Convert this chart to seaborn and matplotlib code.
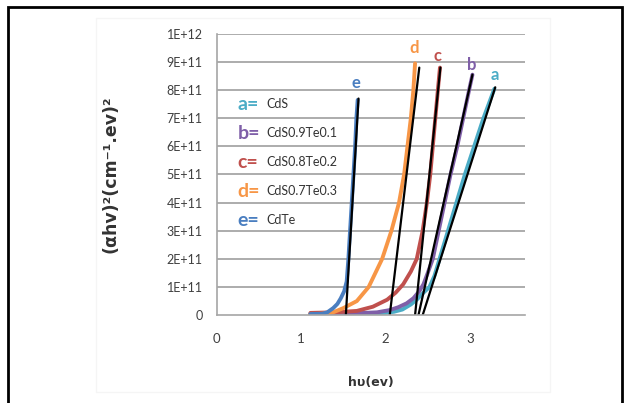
import numpy as np
import pandas as pd
import matplotlib
matplotlib.use("Agg")
import matplotlib.pyplot as plt
import seaborn as sns
from matplotlib.ticker import FuncFormatter, MultipleLocator
from matplotlib.patches import Rectangle

# curves: photon energy (eV) and (alpha h v)^2 in units of 1E11
a_x = [1.11, 1.5, 1.8, 2.0, 2.1, 2.2, 2.3, 2.37, 2.45, 2.52, 2.58, 2.64, 2.69, 2.74, 2.84, 2.94, 3.05, 3.16, 3.29]
a_y = [0.05, 0.05, 0.06, 0.08, 0.12, 0.2, 0.38, 0.55, 0.8, 1.0, 1.4, 2.0, 2.5, 3.0, 4.0, 5.0, 6.0, 7.0, 8.05]
b_x = [1.11, 1.6, 1.9, 2.05, 2.15, 2.25, 2.33, 2.4, 2.45, 2.5, 2.56, 2.63, 2.70, 2.77, 2.85, 2.92, 2.99, 3.03]
b_y = [0.05, 0.06, 0.1, 0.18, 0.28, 0.42, 0.6, 0.85, 1.1, 1.5, 2.0, 3.0, 4.0, 5.0, 6.0, 7.0, 8.0, 8.55]
c_x = [1.11, 1.4, 1.66, 1.85, 2.02, 2.12, 2.21, 2.3, 2.37, 2.44, 2.49, 2.53, 2.56, 2.59, 2.62, 2.645]
c_y = [0.08, 0.1, 0.15, 0.3, 0.55, 0.8, 1.1, 1.55, 2.0, 3.0, 4.0, 5.0, 6.0, 7.0, 8.0, 8.8]
d_x = [1.11, 1.3, 1.38, 1.5, 1.66, 1.8, 1.96, 2.07, 2.16, 2.22, 2.26, 2.30, 2.33, 2.35]
d_y = [0.03, 0.06, 0.1, 0.25, 0.5, 1.0, 2.0, 3.0, 4.0, 5.0, 6.0, 7.0, 8.0, 8.95]
e_x = [1.11, 1.25, 1.31, 1.38, 1.43, 1.47, 1.51, 1.54, 1.56, 1.58, 1.60, 1.62, 1.64, 1.655, 1.67]
e_y = [0.04, 0.05, 0.1, 0.25, 0.4, 0.6, 0.85, 1.2, 2.0, 3.0, 4.0, 5.0, 6.0, 7.0, 7.65]

# tangent (band gap) lines: start and end points
fit_x = {"a": [2.44, 3.30], "b": [2.39, 3.03], "c": [2.35, 2.65], "d": [2.05, 2.40], "e": [1.53, 1.68]}
fit_y = {"a": [0, 8.1], "b": [0, 8.55], "c": [0, 8.8], "d": [0, 8.8], "e": [0, 7.7]}

letters = ["a", "b", "c", "d", "e"]
names = ["CdS", "CdS0.9Te0.1", "CdS0.8Te0.2", "CdS0.7Te0.3", "CdTe"]
colors = ["#4BACC6", "#7F5FA8", "#C0504D", "#F79646", "#4A7EC0"]
# letter tags above each curve end
tag_x = [3.29, 3.02, 2.62, 2.34, 1.65]
tag_y = [8.55, 8.9, 9.2, 9.5, 8.26]

curves = pd.concat([
    pd.DataFrame({"x": xs, "y": np.array(ys) * 1e11, "s": s})
    for s, xs, ys in zip(letters, [a_x, b_x, c_x, d_x, e_x], [a_y, b_y, c_y, d_y, e_y])
])
fits = pd.concat([
    pd.DataFrame({"x": fit_x[s], "y": np.array(fit_y[s]) * 1e11, "s": s}) for s in letters
])

sns.set_style("white")
plt.rcParams["font.family"] = ["Lato", "DejaVu Sans"]

fig = plt.figure(figsize=(6.3, 4.03), dpi=100)
ax = fig.add_axes([0.344, 0.218, 0.489, 0.698])

for y in np.arange(1, 11) * 1e11:
    ax.axhline(y, color="#A6A6A6", lw=1.3, zorder=0)

sns.lineplot(data=curves, x="x", y="y", hue="s", palette=dict(zip(letters, colors)),
             sort=False, estimator=None, lw=2.8, legend=False, ax=ax)
sns.lineplot(data=fits, x="x", y="y", units="s", color="black",
             sort=False, estimator=None, lw=1.6, legend=False, ax=ax)

ax.set_xlim(0, 3.65)
ax.set_ylim(0, 1e12)
ax.set_xticks([0, 1, 2, 3])
ax.xaxis.set_minor_locator(MultipleLocator(1 / 6))
ax.set_yticks(np.arange(0, 11) * 1e11)
ax.yaxis.set_major_formatter(FuncFormatter(lambda v, p: "0" if v == 0 else format(v, ".0E")))

for side in ["top", "right"]:
    ax.spines[side].set_visible(False)
for side in ["left", "bottom"]:
    ax.spines[side].set_color("#A6A6A6")
    ax.spines[side].set_linewidth(1.2)
ax.tick_params(axis="y", direction="out", length=4, width=1, color="#A6A6A6",
               labelsize=9, labelcolor="#404040", pad=6)
ax.tick_params(axis="x", which="major", direction="out", length=4, width=1, color="#A6A6A6",
               labelsize=9.5, labelcolor="#404040", pad=9)
ax.tick_params(axis="x", which="minor", direction="out", length=3, width=0.8, color="#A6A6A6")

for s, c, tx, ty in zip(letters, colors, tag_x, tag_y):
    ax.text(tx, ty * 1e11, s, color=c, fontsize=12, fontweight="bold", ha="center", va="center")

for i, (s, n, c) in enumerate(zip(letters, names, colors)):
    y = (7.5 - 1.03 * i) * 1e11
    ax.text(0.25, y, s + "=", color=c, fontsize=14, fontweight="bold", ha="left", va="center")
    ax.text(0.59, y, n, color="#333333", fontsize=9, ha="left", va="center")

ax.set_xlabel("hυ(ev)", fontsize=9, fontweight="bold", color="#333333", labelpad=22,
              family=["DejaVu Sans"])
ax.set_ylabel("(αhv)²(cm⁻¹.ev)²", fontsize=12.5, fontweight="bold", color="#333333",
              labelpad=34, family=["DejaVu Sans"])

# faint inner chart area and black outer frame
fig.patches.append(Rectangle((0.153, 0.027), 0.72, 0.928, transform=fig.transFigure,
                             fill=False, edgecolor="#F5F5F5", lw=1))
fig.patches.append(Rectangle((0.012, -0.05), 0.976, 1.032, transform=fig.transFigure,
                             fill=False, edgecolor="black", lw=2))

fig.savefig("out.png", dpi=100)
